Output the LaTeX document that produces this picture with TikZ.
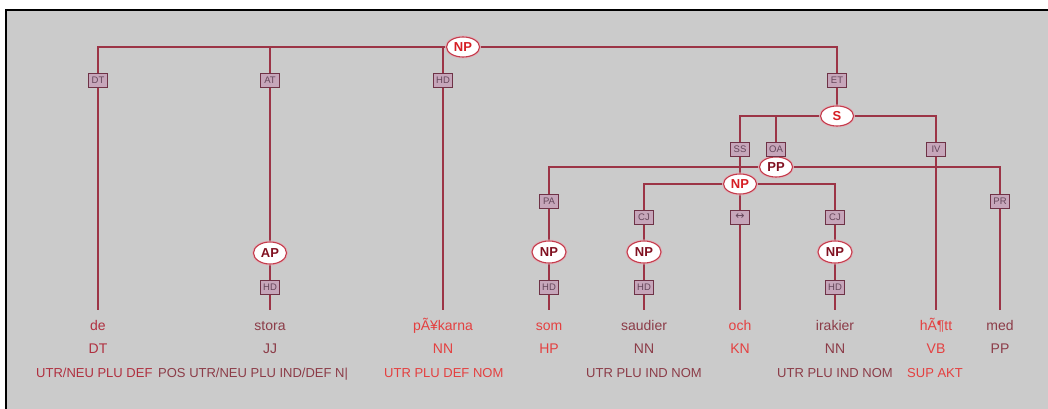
\documentclass[tikz,border=0pt]{standalone}
\usepackage{fontspec}
\setmainfont{Liberation Sans}
\newfontfamily\symfont{DejaVu Sans}
\usetikzlibrary{shapes.geometric}
\pgfdeclarelayer{bg}\pgfdeclarelayer{lines}
\pgfsetlayers{bg,lines,main}
\definecolor{panel}{RGB}{203,203,203}
\definecolor{ln}{RGB}{156,52,70}
\definecolor{halo}{RGB}{222,178,186}
\definecolor{boxfill}{RGB}{198,166,186}
\definecolor{boxdraw}{RGB}{110,50,70}
\definecolor{boxtext}{RGB}{100,70,90}
\definecolor{ellline}{RGB}{196,60,76}
\definecolor{catred}{RGB}{214,30,36}
\definecolor{catdark}{RGB}{128,16,32}
\definecolor{wdark}{RGB}{140,60,72}
\definecolor{wred}{RGB}{228,64,64}
\definecolor{wmid}{RGB}{176,48,64}
\begin{document}
\begin{tikzpicture}[x=1pt,y=-1pt,
  cat/.style={ellipse, draw=ellline, line width=1.1pt, fill=white, inner sep=0pt,
    minimum width=33pt, minimum height=20pt,
    font=\fontsize{13}{13}\selectfont\bfseries,
    preaction={draw=halo, line width=2.8pt}},
  lab/.style={rectangle, draw=boxdraw, line width=0.8pt, fill=boxfill, inner sep=0pt,
    minimum width=19pt, minimum height=14pt, text=boxtext,
    font=\fontsize{9.5}{9.5}\selectfont},
  wd/.style={anchor=base, inner xsep=0pt, inner ysep=9.5pt, text height=10.5pt, text depth=3pt,
    font=\fontsize{14}{14}\selectfont},
  tg/.style={anchor=base, inner sep=0pt, font=\fontsize{14}{14}\selectfont},
  mo/.style={inner sep=0pt, font=\fontsize{13}{13}\selectfont},
  conn/.style={draw=ln, line width=1.1pt, preaction={draw=halo, line width=2.6pt}}]
\useasboundingbox (0,0) rectangle (1048,409);
\begin{pgfonlayer}{bg}
\fill[white] (0,0) rectangle (1048,409);
\fill[panel] (6,10) rectangle (1048,409);
\draw[black,line width=2.5pt] (6,409) -- (6,10) -- (1048,10);
\end{pgfonlayer}

% phrase nodes
\node[cat, text=catred] (np0) at (463,47) {NP};
\node[cat, text=catred] (s) at (837,116) {S};
\node[cat, text=catdark] (pp) at (776,167) {PP};
\node[cat, text=catred] (np1) at (740,184) {NP};
\node[cat, text=catdark, minimum width=34pt, minimum height=22pt] (np2) at (549,252) {NP};
\node[cat, text=catdark, minimum width=34pt, minimum height=22pt] (np3) at (644,252) {NP};
\node[cat, text=catdark, minimum width=34pt, minimum height=22pt] (np4) at (835,252) {NP};
\node[cat, text=catdark, minimum height=22pt] (ap) at (270,253) {AP};

% edge label boxes
\node[lab] (dt) at (98,80) {DT};
\node[lab] (at) at (270,80) {AT};
\node[lab] (hd0) at (443,80) {HD};
\node[lab] (et) at (837,80) {ET};
\node[lab] (ss) at (740,149) {SS};
\node[lab] (oa) at (776,149) {OA};
\node[lab] (iv) at (936,149) {IV};
\node[lab] (pa) at (549,201) {PA};
\node[lab] (pr) at (1000,201) {PR};
\node[lab] (cj1) at (644,217) {CJ};
\node[lab] (co) at (740,217) {\symfont\fontsize{11}{11}\selectfont ↔};
\node[lab] (cj2) at (835,217) {CJ};
\node[lab] (hd1) at (270,287) {HD};
\node[lab] (hd2) at (549,287) {HD};
\node[lab] (hd3) at (644,287) {HD};
\node[lab] (hd4) at (835,287) {HD};

% words
\node[wd, text=wmid] (w1) at (98,330) {de};
\node[wd, text=wdark] (w2) at (270,330) {stora};
\node[wd, text=wred] (w3) at (443,330) {pÃ¥karna};
\node[wd, text=wred] (w4) at (549,330) {som};
\node[wd, text=wdark] (w5) at (644,330) {saudier};
\node[wd, text=wred] (w6) at (740,330) {och};
\node[wd, text=wdark] (w7) at (835,330) {irakier};
\node[wd, text=wred] (w8) at (936,330) {hÃ¶tt};
\node[wd, text=wdark] (w9) at (1000,330) {med};

% tags
\node[tg, text=wmid] (t1) at (98,353) {DT};
\node[tg, text=wdark] (t2) at (270,353) {JJ};
\node[tg, text=wred] (t3) at (443,353) {NN};
\node[tg, text=wred] (t4) at (549,353) {HP};
\node[tg, text=wdark] (t5) at (644,353) {NN};
\node[tg, text=wred] (t6) at (740,353) {KN};
\node[tg, text=wdark] (t7) at (835,353) {NN};
\node[tg, text=wred] (t8) at (936,353) {VB};
\node[tg, text=wdark] (t9) at (1000,353) {PP};

% morphology
\node[mo, anchor=base west, text=wmid] (m1) at (36,377) {UTR/NEU PLU DEF};
\node[mo, anchor=base west, text=wdark] (m2) at (158,377) {POS UTR/NEU PLU IND/DEF N|};
\node[mo, anchor=base west, text=wred] (m3) at (384,377) {UTR PLU DEF NOM};
\node[mo, anchor=base, text=wdark] (m5) at (644,377) {UTR PLU IND NOM};
\node[mo, anchor=base, text=wdark] (m7) at (835,377) {UTR PLU IND NOM};
\node[mo, anchor=base, text=wred] (m8) at (935,377) {SUP AKT};

% connectors
\begin{pgfonlayer}{lines}
\path[conn] (np0) -| (dt);
\path[conn] (np0) -| (at);
\path[conn] (np0) -| (hd0);
\path[conn] (np0) -| (et);
\path[conn] (dt) -- (w1.north);
\path[conn] (at) -- (ap);
\path[conn] (ap) -- (hd1);
\path[conn] (hd1) -- (w2.north);
\path[conn] (hd0) -- (w3.north);
\path[conn] (et) -- (s);
\path[conn] (s) -| (ss);
\path[conn] (s) -| (oa);
\path[conn] (s) -| (iv);
\path[conn] (iv) -- (w8.north);
\path[conn] (oa) -- (pp);
\path[conn] (pp) -| (pa);
\path[conn] (pp) -| (pr);
\path[conn] (pr) -- (w9.north);
\path[conn] (ss) -- (np1);
\path[conn] (pa) -- (np2);
\path[conn] (np2) -- (hd2);
\path[conn] (hd2) -- (w4.north);
\path[conn] (np1) -| (cj1);
\path[conn] (np1) -| (cj2);
\path[conn] (np1) -- (co);
\path[conn] (co) -- (w6.north);
\path[conn] (cj1) -- (np3);
\path[conn] (np3) -- (hd3);
\path[conn] (hd3) -- (w5.north);
\path[conn] (cj2) -- (np4);
\path[conn] (np4) -- (hd4);
\path[conn] (hd4) -- (w7.north);
\end{pgfonlayer}
\end{tikzpicture}
\end{document}
